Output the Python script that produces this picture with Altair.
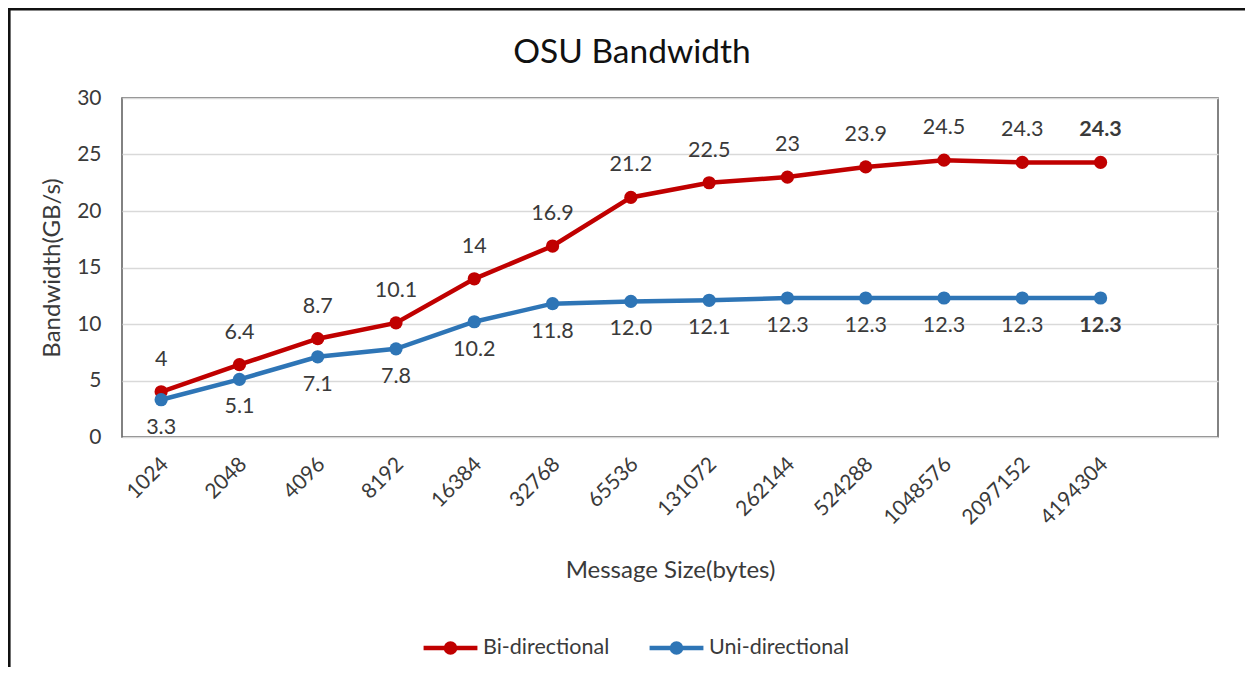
import altair as alt
import pandas as pd

sizes = ["1024", "2048", "4096", "8192", "16384", "32768", "65536", "131072",
         "262144", "524288", "1048576", "2097152", "4194304"]
bi_values = [4, 6.4, 8.7, 10.1, 14, 16.9, 21.2, 22.5, 23, 23.9, 24.5, 24.3, 24.3]
uni_values = [3.3, 5.1, 7.1, 7.8, 10.2, 11.8, 12.0, 12.1, 12.3, 12.3, 12.3, 12.3, 12.3]
series_names = ["Bi-directional", "Uni-directional"]
series_colors = ["#C00000", "#2E75B6"]
y_ticks = [0, 5, 10, 15, 20, 25, 30]

rows = []
for s, v in zip(sizes, bi_values):
    rows.append({"size": s, "value": v, "series": series_names[0], "label": f"{v:g}"})
for s, v in zip(sizes, uni_values):
    rows.append({"size": s, "value": v, "series": series_names[1], "label": f"{v:.1f}"})
df = pd.DataFrame(rows)

FONT = "Lato"
TXT = "#3a3a3a"
W, H = 1096, 339

x_dom = sizes + [" "]
x_enc = alt.X("size:N", sort=None, scale=alt.Scale(domain=x_dom),
              axis=alt.Axis(title="Message Size(bytes)", labelAngle=-45, labelPadding=16,
                            labelOffset=-4, titlePadding=30, labelFontSize=21, titleFontSize=24,
                            labelColor=TXT, titleColor=TXT, grid=False, domain=False, ticks=False,
                            labelFont=FONT, titleFont=FONT, titleFontWeight="normal"))
y_enc = alt.Y("value:Q", scale=alt.Scale(domain=[0, 30]),
              axis=alt.Axis(title="Bandwidth(GB/s)", values=y_ticks, labelPadding=21,
                            titlePadding=12, labelFontSize=21, titleFontSize=24,
                            labelColor=TXT, titleColor=TXT, grid=True, gridColor="#D9D9D9",
                            gridWidth=1.3, domain=False, ticks=False,
                            labelFont=FONT, titleFont=FONT, titleFontWeight="normal"))

legend_symbol = ("M-1,0L1,0M-0.17,0A0.17,0.17,0,1,1,0.17,0"
                 "A0.17,0.17,0,1,1,-0.17,0Z")
color_enc = alt.Color("series:N", scale=alt.Scale(domain=series_names, range=series_colors),
                      legend=alt.Legend(title=None, orient="none", direction="horizontal",
                                        legendX=299, legendY=520, symbolType=legend_symbol,
                                        symbolSize=2900, symbolStrokeWidth=4.5,
                                        labelFontSize=21.5, labelColor=TXT, labelFont=FONT,
                                        columnPadding=30, labelOffset=3))

base = alt.Chart(df)
lines = base.mark_line(strokeWidth=4.5, point=alt.OverlayMarkDef(filled=True, size=175)).encode(
    x=x_enc, y=y_enc, color=color_enc)


def text_layer(series, dy, bold):
    cond = (alt.datum.size == sizes[-1]) if bold else (alt.datum.size != sizes[-1])
    return base.transform_filter(alt.datum.series == series).transform_filter(cond).mark_text(
        dy=dy, fontSize=21.5, color=TXT, font=FONT,
        fontWeight="bold" if bold else "normal").encode(
        x=alt.X("size:N", sort=None), y="value:Q", text="label:N")


texts = [text_layer(series_names[0], -32, False), text_layer(series_names[0], -32, True),
         text_layer(series_names[1], 28, False), text_layer(series_names[1], 28, True)]

frame = alt.Chart(pd.DataFrame({"f": [0]})).mark_rect(
    filled=False, stroke="#111111", strokeWidth=2.6, clip=False).encode(
    x=alt.value(-112.7), y=alt.value(-88.7), x2=alt.value(1300), y2=alt.value(800))

chart = alt.layer(frame, lines, *texts).properties(
    width=W, height=H,
    title=alt.TitleParams("OSU Bandwidth", fontSize=33.5, font=FONT, fontWeight="normal",
                          color="#111111", anchor="middle", offset=-62, frame="group", dx=-38),
    autosize=alt.AutoSizeParams(type="none"),
    padding={"left": 114, "top": 90, "right": 27, "bottom": 230},
    background="white",
).configure_view(stroke="#595959", strokeWidth=1.5)

chart.save("out.html", embed_options={"renderer": "svg", "actions": False})
